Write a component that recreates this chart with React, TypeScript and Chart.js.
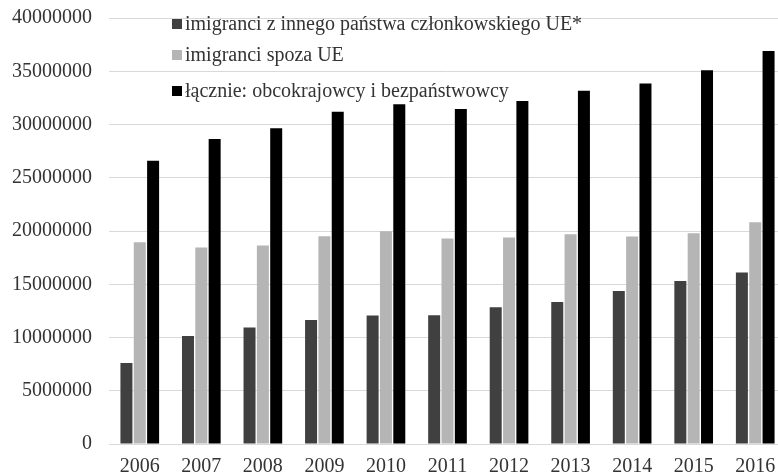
import React, { useEffect, useRef } from "react";
import { Chart, registerables } from "chart.js";

Chart.register(...registerables);

const categories = ["2006", "2007", "2008", "2009", "2010", "2011", "2012", "2013", "2014", "2015", "2016"];
const seriesLabels = [
  "imigranci z innego państwa członkowskiego UE*",
  "imigranci spoza UE",
  "łącznie: obcokrajowcy i bezpaństwowcy",
];
const euImmigrants = [7600000, 10150000, 10950000, 11650000, 12070000, 12100000, 12830000, 13330000, 14360000, 15300000, 16100000];
const nonEuImmigrants = [18950000, 18450000, 18650000, 19500000, 19980000, 19290000, 19390000, 19700000, 19480000, 19800000, 20830000];
const totalForeigners = [26600000, 28640000, 29650000, 31200000, 31900000, 31450000, 32200000, 33160000, 33850000, 35100000, 36900000];
const yTicks = [0, 5000000, 10000000, 15000000, 20000000, 25000000, 30000000, 35000000, 40000000];

const colors = ["#404040", "#b5b5b5", "#000000"];
const FONT = "'Liberation Serif', 'Times New Roman', serif";
const TEXT = "#333333";

const legendRows = [24, 55, 91];

const legendPlugin = {
  id: "insideLegend",
  afterDraw(chart: any) {
    const ctx = chart.ctx;
    const area = chart.chartArea;
    ctx.save();
    ctx.font = `20px ${FONT}`;
    ctx.textBaseline = "middle";
    ctx.textAlign = "left";
    chart.data.datasets.forEach((ds: any, i: number) => {
      const y = legendRows[i];
      const x = area.left + 63;
      ctx.fillStyle = ds.backgroundColor;
      ctx.fillRect(x, y - 5, 10, 10);
      ctx.fillStyle = TEXT;
      ctx.fillText(ds.label, x + 13, y + 1);
    });
    ctx.restore();
  },
};

export default function App() {
  const ref = useRef<HTMLCanvasElement>(null);
  useEffect(() => {
    if (!ref.current) return;
    const chart = new Chart(ref.current, {
      type: "bar",
      data: {
        labels: categories,
        datasets: [
          { label: seriesLabels[0], data: euImmigrants, backgroundColor: colors[0] },
          { label: seriesLabels[1], data: nonEuImmigrants, backgroundColor: colors[1] },
          { label: seriesLabels[2], data: totalForeigners, backgroundColor: colors[2] },
        ],
      },
      options: {
        responsive: false,
        animation: false,
        devicePixelRatio: 1,
        layout: { padding: { top: 18, left: 0, right: 0, bottom: 0 } },
        datasets: { bar: { categoryPercentage: 0.65, barPercentage: 0.9 } },
        plugins: { legend: { display: false }, tooltip: { enabled: false } },
        scales: {
          x: {
            grid: { display: false, drawTicks: false },
            border: { display: true, color: "#d9d9d9", width: 1 },
            ticks: { font: { family: FONT, size: 20 }, color: TEXT, padding: 11, maxRotation: 0 },
            afterFit: (s: any) => {
              s.height = 31;
              s.paddingLeft = 0;
              s.paddingRight = 0;
            },
          },
          y: {
            min: 0,
            max: 40000000,
            afterBuildTicks: (s: any) => { s.ticks = yTicks.map((v) => ({ value: v })); },
            grid: { color: "#d9d9d9", lineWidth: 1, drawTicks: false },
            border: { display: false },
            ticks: {
              font: { family: FONT, size: 20 },
              color: TEXT,
              padding: 17,
              callback: (v: any) => String(v),
            },
            afterFit: (s: any) => {
              s.width = 109;
              s.paddingTop = 0;
              s.paddingBottom = 0;
            },
          },
        },
      },
      plugins: [legendPlugin],
    });
    return () => chart.destroy();
  }, []);
  return (
    <div style={{ position: "fixed", left: 0, top: 0, width: 778, height: 475, overflow: "hidden", background: "#fff" }}>
      <canvas ref={ref} width={786} height={475} style={{ display: "block", width: 786, height: 475 }} />
    </div>
  );
}
